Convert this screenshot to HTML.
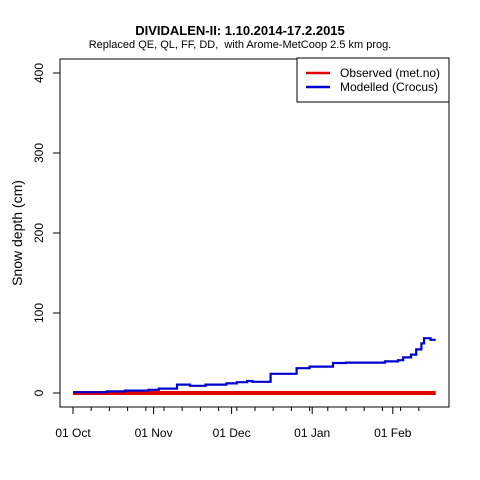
<!DOCTYPE html>
<html><head><meta charset="utf-8"><style>
body{margin:0;background:#fff;}
svg{display:block;font-family:"Liberation Sans",sans-serif;}
</style></head><body>
<svg id="chart" width="480" height="480" viewBox="0 0 480 480">
<rect width="480" height="480" fill="#fff"/>
<text x="240" y="35" text-anchor="middle" font-size="13" font-weight="bold">DIVIDALEN-II: 1.10.2014-17.2.2015</text>
<text x="240" y="48" text-anchor="middle" font-size="11">Replaced QE, QL, FF, DD, &#160;with Arome-MetCoop 2.5 km prog.</text>
<text transform="translate(22,233) rotate(-90)" text-anchor="middle" font-size="14">Snow depth (cm)</text>
<rect x="60" y="59" width="389" height="348" fill="none" stroke="#000" stroke-width="1"/>
<g id="yaxis"></g>
<g id="xaxis"></g>
<g id="series"></g>
<g>
<rect x="297" y="58" width="152" height="44" fill="#fff" stroke="#000"/>
<line x1="306" y1="73" x2="330" y2="73" stroke="#e00000" stroke-width="2.5"/>
<text x="340" y="77" font-size="12">Observed (met.no)</text>
<line x1="306" y1="87" x2="330" y2="87" stroke="#0000cc" stroke-width="2.5"/>
<text x="340" y="91" font-size="12">Modelled (Crocus)</text>
</g>
</svg>
<script>
const yTicks = [0, 100, 200, 300, 400];
const monthLabels = ["01 Oct", "01 Nov", "01 Dec", "01 Jan", "01 Feb"];
const monthDays = [0, 31, 61, 92, 123];
const totalDays = 139;
const obsDays = [0, 139.5];
const obsValues = [0, 0];
const modDays = [0, 13, 20, 29, 33, 40, 45, 51, 59, 63, 67, 69, 76, 86, 91, 100, 105, 120, 125, 127, 130, 132, 134, 135, 137.5, 139.5];
const modValues = [1, 2, 3, 4, 5.5, 10.5, 9, 10.5, 12, 13.5, 15, 14, 24, 31, 33, 37.5, 38, 39.5, 41, 44.5, 48, 54.5, 62, 68.5, 66.5, 66.5];

const NS = "http://www.w3.org/2000/svg";
const xS = d => 73 + d * 2.6;
const yS = v => 393 - v * 0.8;
function mk(tag, attrs, parent) {
  const e = document.createElementNS(NS, tag);
  for (const k in attrs) e.setAttribute(k, attrs[k]);
  parent.appendChild(e);
  return e;
}
const yax = document.getElementById('yaxis');
mk('line', {x1: 60, y1: yS(0), x2: 60, y2: yS(400), stroke: '#000'}, yax);
yTicks.forEach(t => {
  const l = mk('line', {x1: 53, y1: yS(t), x2: 60, y2: yS(t), stroke: '#000'}, yax);
  
  
  const tx = mk('text', {transform: `translate(43,${yS(t)}) rotate(-90)`, 'text-anchor': 'middle', 'font-size': 12}, yax);
  tx.textContent = t;
  
  
});
const xax = document.getElementById('xaxis');
mk('line', {x1: xS(0), y1: 407, x2: xS(totalDays), y2: 407, stroke: '#000'}, xax);
for (let d = 0; d <= totalDays; d += 7) {
  const l = mk('line', {x1: xS(d), y1: 407, x2: xS(d), y2: 411, stroke: '#000'}, xax);
  
  
}
monthDays.forEach((d, i) => {
  const l = mk('line', {x1: xS(d), y1: 407, x2: xS(d), y2: 414, stroke: '#000'}, xax);
  
  
  const tx = mk('text', {x: xS(d), y: 437, 'text-anchor': 'middle', 'font-size': 12}, xax);
  tx.textContent = monthLabels[i];
  
  
});
function stepPath(ds, vs) {
  let p = `M${xS(ds[0])},${yS(vs[0])}`;
  for (let i = 1; i < ds.length; i++) p += ` H${xS(ds[i])} V${yS(vs[i])}`;
  return p;
}
const ser = document.getElementById('series');
const obs = mk('path', {d: stepPath(obsDays, obsValues), fill: 'none', stroke: '#e00000', 'stroke-width': 4}, ser);


const mod = mk('path', {d: stepPath(modDays, modValues), fill: 'none', stroke: '#0000cc', 'stroke-width': 2.2}, ser);


</script>
</body></html>
